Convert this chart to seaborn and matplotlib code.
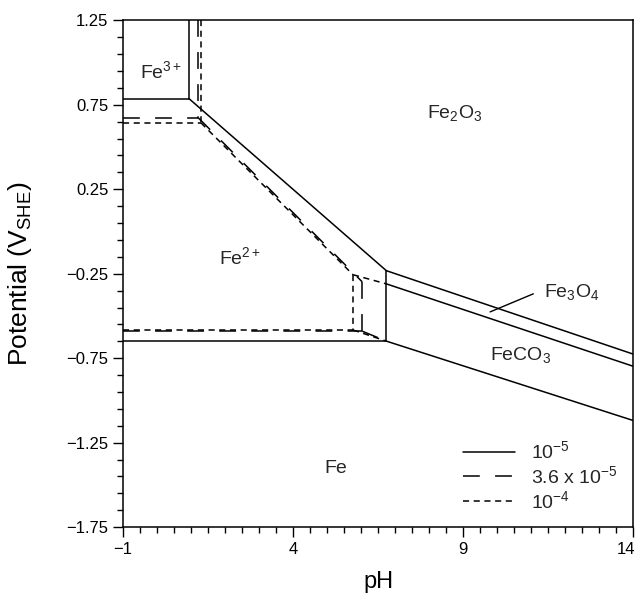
import matplotlib
matplotlib.use("Agg")
import matplotlib.pyplot as plt
import matplotlib.transforms as mtransforms
import numpy as np
import pandas as pd
import seaborn as sns
from matplotlib.ticker import FixedLocator, MultipleLocator

# legend labels, one per dissolved iron concentration
conc_labels = ["10$^{-5}$", "3.6 x 10$^{-5}$", "10$^{-4}$"]

# boundary segments, [start, end] pairs
ph_1e5 = [[0.94, 0.94], [-1, 0.94], [0.94, 6.74], [-1, 6.74],
          [6.74, 6.74], [6.74, 14], [6.74, 14], [6.74, 14]]
e_1e5 = [[1.25, 0.786], [0.786, 0.786], [0.786, -0.232], [-0.649, -0.649],
         [-0.232, -0.649], [-0.232, -0.726], [-0.310, -0.798], [-0.649, -1.119]]

ph_36e5 = [[1.21, 1.21], [-1, 1.21], [1.21, 6.03], [-1, 6.03],
           [6.03, 6.03], [6.03, 6.74]]
e_36e5 = [[1.25, 0.673], [0.673, 0.673], [0.673, -0.298], [-0.590, -0.590],
          [-0.298, -0.590], [-0.590, -0.649]]

ph_1e4 = [[1.29, 1.29], [-1, 1.29], [1.29, 5.76], [-1, 5.76],
          [5.76, 5.76], [5.76, 6.74], [5.76, 6.74]]
e_1e4 = [[1.25, 0.643], [0.643, 0.643], [0.643, -0.256], [-0.583, -0.583],
         [-0.256, -0.583], [-0.256, -0.310], [-0.583, -0.649]]

# stability field names and where they sit (pH, potential)
region_names = ["Fe$^{3+}$", "Fe$_2$O$_3$", "Fe$^{2+}$", "Fe$_3$O$_4$", "FeCO$_3$", "Fe"]
region_ph = [0.12, 8.76, 2.44, 12.2, 10.7, 5.24]
region_e = [0.95, 0.70, -0.15, -0.36, -0.73, -1.40]

# leader line from the Fe3O4 label to its thin band
leader_ph = [11.06, 9.79]
leader_e = [-0.369, -0.476]

rows = []
seg = 0
for label, phs, es in zip(conc_labels, [ph_1e5, ph_36e5, ph_1e4], [e_1e5, e_36e5, e_1e4]):
    for p, e in zip(phs, es):
        for pv, ev in zip(p, e):
            rows.append({"pH": pv, "E": ev, "conc": label, "seg": seg})
        seg += 1
df = pd.DataFrame(rows)

sns.set_style("ticks")
plt.rcParams["font.family"] = ["Liberation Sans", "DejaVu Sans"]
plt.rcParams["mathtext.fontset"] = "custom"
plt.rcParams["mathtext.rm"] = "Liberation Sans"
plt.rcParams["mathtext.it"] = "Liberation Sans"

fig = plt.figure(figsize=(6.41, 5.97), dpi=100)
ax = fig.add_axes([0.192, 0.117, 0.796, 0.849])

sns.lineplot(
    data=df, x="pH", y="E", style="conc", style_order=conc_labels,
    units="seg", estimator=None, sort=False, color="black", linewidth=1.1,
    dashes={conc_labels[0]: "", conc_labels[1]: (11, 10), conc_labels[2]: (4, 3)},
    ax=ax,
)
ax.plot(leader_ph, leader_e, color="black", linewidth=1.0)

for name, p, e in zip(region_names, region_ph, region_e):
    ax.text(p, e, name, fontsize=14, ha="center", va="center")

ax.set_xlim(-1, 14)
ax.set_ylim(-1.75, 1.25)
ax.set_xticks([-1, 4, 9, 14])
ax.set_xticklabels(["\u22121", "4", "9", "14"])
ax.xaxis.set_minor_locator(MultipleLocator(0.5))
yt = [1.25, 0.75, 0.25, -0.25, -0.75, -1.25, -1.75]
ax.set_yticks(yt)
ax.set_yticklabels([f"{v:.2f}".replace("-", "\u2212") for v in yt])
ax.yaxis.set_minor_locator(FixedLocator(np.arange(-1.75, 1.26, 0.1)))
ax.tick_params(which="major", length=7, width=1, labelsize=12, color="black", labelcolor="black")
ax.tick_params(which="minor", length=4.5, width=1, color="black")
for s in ax.spines.values():
    s.set_visible(True)
    s.set_color("black")
    s.set_linewidth(1.1)

# keep the last x tick label inside the canvas
last = ax.get_xticklabels()[-1]
last.set_transform(last.get_transform() + mtransforms.ScaledTranslation(-5 / 72, 0, fig.dpi_scale_trans))

ax.set_xlabel("pH", fontsize=17, color="black", labelpad=10)
ax.set_ylabel("Potential (V$_{\\mathrm{SHE}}$)", fontsize=19, color="black")
ax.yaxis.set_label_coords(-0.175, 0.5)

sns.move_legend(
    ax, "lower left", bbox_to_anchor=(0.667, 0.03), title=None, frameon=False,
    fontsize=14, handlelength=2.65, handletextpad=0.85, labelspacing=0.15,
    borderpad=0, borderaxespad=0,
)

fig.savefig("out.png", dpi=100)
